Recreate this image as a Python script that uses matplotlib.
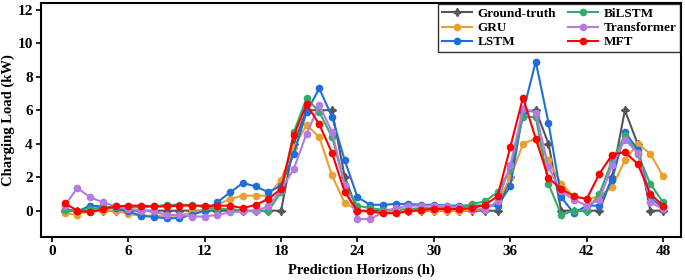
import numpy as np
import matplotlib
matplotlib.use('Agg')
import matplotlib.pyplot as plt

plt.rcParams['font.family'] = ['Liberation Serif', 'DejaVu Serif']
plt.rcParams['font.weight'] = 'bold'

hours = np.arange(1, 49)

ground_truth = [0, 0, 0, 0, 0, 0, 0, 0, 0, 0, 0, 0, 0, 0, 0, 0, 0, 0,
                4.0, 6.0, 6.0, 6.0, 2.0, 0, 0, 0, 0, 0, 0, 0, 0, 0, 0, 0, 0,
                2.0, 5.9, 6.0, 4.0, 0, 0, 0, 0, 2.0, 6.0, 4.0, 0, 0]
gru = [-0.15, -0.24, 0.0, 0.0, 0.0, -0.2, -0.3, -0.3, -0.3, -0.3, -0.1, 0.05,
       0.35, 0.7, 0.9, 0.9, 0.9, 1.85, 3.8, 5.1, 4.4, 2.1, 0.45, 0.05,
       -0.1, -0.1, -0.05, 0.0, 0.0, 0.0, 0.0, 0.0, 0.05, 0.1, 0.5,
       1.95, 4.0, 4.3, 3.0, 1.6, 0.85, 0.7, 0.85, 1.4, 3.0, 4.0, 3.4, 2.05]
lstm = [0.1, -0.05, 0.3, 0.25, 0.15, -0.05, -0.3, -0.38, -0.45, -0.45, -0.25, 0.0,
        0.5, 1.1, 1.65, 1.45, 1.1, 1.5, 3.4, 5.9, 7.3, 5.6, 3.0, 0.8,
        0.35, 0.35, 0.4, 0.4, 0.35, 0.35, 0.3, 0.3, 0.3, 0.3, 0.3,
        1.45, 5.9, 8.9, 5.25, 0.8, -0.15, 0.3, 0.3, 1.85, 4.7, 3.65, 0.75, 0.2]
bilstm = [0.05, -0.05, 0.1, 0.2, 0.2, 0.2, 0.2, 0.25, 0.35, 0.35, 0.35, 0.2,
          0.1, 0.1, 0.0, -0.05, 0.0, 1.1, 4.7, 6.7, 5.9, 4.4, 1.55, 0.3,
          0.15, 0.05, 0.05, 0.1, 0.15, 0.15, 0.15, 0.2, 0.4, 0.55, 1.1,
          2.5, 5.6, 5.6, 1.6, -0.25, 0.0, 0.0, 1.0, 3.0, 4.5, 3.4, 1.6, 0.5]
transformer = [0.3, 1.35, 0.8, 0.5, 0.25, 0.1, 0.0, -0.05, -0.25, -0.25, -0.35, -0.35,
               -0.25, -0.1, -0.05, 0.0, 0.25, 1.25, 2.5, 4.6, 6.3, 4.7, 1.55, -0.5,
               -0.5, -0.1, 0.15, 0.3, 0.3, 0.3, 0.25, 0.2, 0.1, 0.05, 0.55,
               2.7, 6.1, 5.85, 2.6, 1.15, 0.65, 0.3, 0.65, 2.7, 4.25, 3.45, 0.5, 0.1]
mft = [0.45, 0.0, -0.1, 0.1, 0.25, 0.3, 0.3, 0.25, 0.25, 0.3, 0.3, 0.3,
       0.3, 0.3, 0.15, 0.35, 0.7, 1.3, 4.5, 6.35, 5.15, 3.45, 1.1, 0.0,
       -0.05, -0.15, -0.15, -0.05, 0.05, 0.1, 0.1, 0.1, 0.15, 0.35, 0.85,
       3.8, 6.75, 4.3, 1.95, 1.3, 0.85, 0.7, 2.2, 3.35, 3.5, 2.8, 1.0, 0.3]

fig = plt.figure(figsize=(6.85, 2.80), dpi=100)
ax = fig.add_axes([0.06, 0.155, 0.934, 0.834])

ax.plot(hours, ground_truth, color='#555555', marker=(4, 1, 0), markersize=6, lw=1.5, label='Ground-truth')
ax.plot(hours, gru, color='#E8A030', marker='o', markersize=4.5, lw=1.5, label='GRU')
ax.plot(hours, lstm, color='#1F6FDB', marker='o', markersize=4.5, lw=1.5, label='LSTM')
ax.plot(hours, bilstm, color='#35AA6A', marker='o', markersize=4.5, lw=1.5, label='BiLSTM')
ax.plot(hours, transformer, color='#B47BE0', marker='o', markersize=4.5, lw=1.5, label='Transformer')
ax.plot(hours, mft, color='#FF0000', marker='o', markersize=4.5, lw=1.5, label='MFT')

ax.set_xlim(-0.85, 49.4)
ax.set_ylim(-1.55, 12.4)
ax.set_xticks(range(0, 49, 6))
ax.set_yticks(range(0, 13, 2))
ax.tick_params(labelsize=11, width=1.2)
ax.tick_params(axis='x', pad=2.5)
ax.tick_params(axis='y', pad=2.5)
for lab in ax.get_xticklabels() + ax.get_yticklabels():
    lab.set_fontweight('bold')
for s in ax.spines.values():
    s.set_linewidth(1.5)

ax.set_xlabel('Prediction Horizons (h)', fontsize=10.5, fontweight='bold', labelpad=4)
ax.set_ylabel('Charging Load (kW)', fontsize=10.5, fontweight='bold', labelpad=1.5)

leg = ax.legend(ncol=2, loc='upper right', fontsize=9.5, frameon=True, fancybox=False,
                edgecolor='black', borderaxespad=0.1, handlelength=2.3,
                columnspacing=0.9, labelspacing=0.15, borderpad=0.25, handletextpad=0.4)
leg.get_frame().set_linewidth(1.0)
for t in leg.get_texts():
    t.set_fontweight('bold')

plt.savefig('out.png', dpi=100)
